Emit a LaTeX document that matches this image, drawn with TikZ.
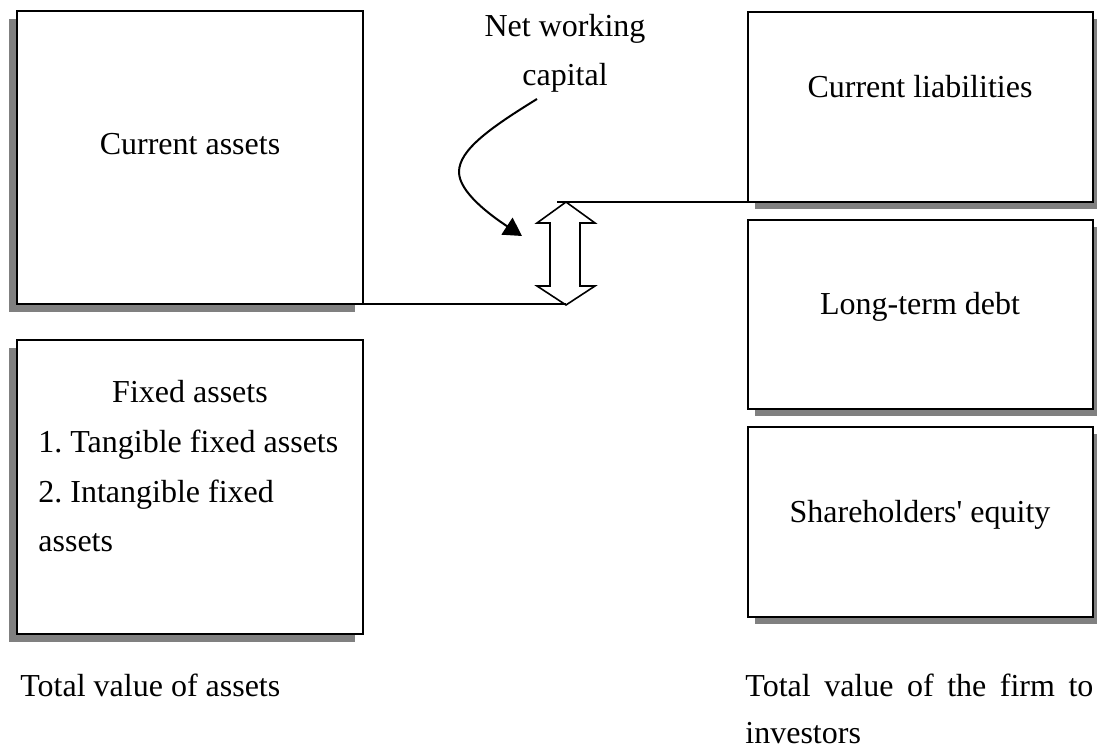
\documentclass[tikz,border=0pt]{standalone}
\usepackage{fontspec}
\setmainfont{Liberation Serif}[Ligatures=TeXOff]
\usetikzlibrary{shadows,arrows.meta}
\frenchspacing
\begin{document}
\begin{tikzpicture}[x=0.5pt,y=-0.5pt,
  box/.style={draw, line width=1.1pt, fill=white, inner sep=0pt, outer sep=0pt, anchor=north west},
  lshadow/.style={general shadow={fill=black!50, shadow xshift=-4pt, shadow yshift=-4pt}},
  rshadow/.style={general shadow={fill=black!50, shadow xshift=3.5pt, shadow yshift=-3.5pt}},
  txt/.style={font=\fontsize{16}{19}\selectfont, inner sep=0pt, anchor=base},
  ltxt/.style={txt, anchor=base west},
  link/.style={line width=0.8pt},
  dblarrow/.style={draw, fill=white, line width=0.8pt, line join=miter},
  curvearrow/.style={line width=1pt, -{Triangle[length=9pt,width=10pt]}},
]
\useasboundingbox (0,0) rectangle (1097,747);

% boxes
\node[box, lshadow, minimum width=173pt, minimum height=146.5pt] (ca) at (17,11) {};
\node[box, lshadow, minimum width=173pt, minimum height=147pt] (fa) at (17,340) {};
\node[box, rshadow, minimum width=172.5pt, minimum height=95pt] (cl) at (748,12) {};
\node[box, rshadow, minimum width=172.5pt, minimum height=94.5pt] (ld) at (748,220) {};
\node[box, rshadow, minimum width=172.5pt, minimum height=95pt] (se) at (748,427) {};

% box texts
\node[txt] (tca) at (190,155) {Current assets};
\node[txt] (tfa) at (190,403) {Fixed assets};
\node[ltxt] (tfa1) at (38,453) {1. Tangible fixed assets};
\node[ltxt] (tfa2) at (38,503) {2. Intangible fixed};
\node[ltxt] (tfa3) at (38,552) {assets};
\node[txt] (tcl) at (920,98) {Current liabilities};
\node[txt] (tld) at (920,315) {Long-term debt};
\node[txt] (tse) at (920,523) {Shareholders' equity};

% net working capital label
\node[txt] (nw1) at (565,37) {Net working};
\node[txt] (nw2) at (565,86) {capital};

% bottom labels
\node[ltxt] (tva) at (20,697) {Total value of assets};
\node[ltxt] (tvf1) at (745,697) {\makebox[174pt][s]{Total value of the firm to}};
\node[ltxt] (tvf2) at (745,743) {investors};

% double arrow
\coordinate (tt) at (566,202);
\coordinate (bt) at (566,305);
\coordinate (tl) at (557,202);
\draw[dblarrow] (tt) -- (537,223) -- (550,223) -- (550,286) -- (537,286) -- (bt)
  -- (595,286) -- (580,286) -- (580,223) -- (595,223) -- cycle;

% connector lines
\draw[link] (ca.south east) -- (ca.south east -| bt);
\draw[link] (tl) -- (tl -| cl.west);

% curved arrow
\coordinate (cs) at (537,99);
\coordinate (ce) at (522,236);
\draw[curvearrow] (cs) .. controls (490,128) and (459,150) .. (459,172)
  .. controls (459,192) and (490,215) .. (ce);
\end{tikzpicture}
\end{document}
